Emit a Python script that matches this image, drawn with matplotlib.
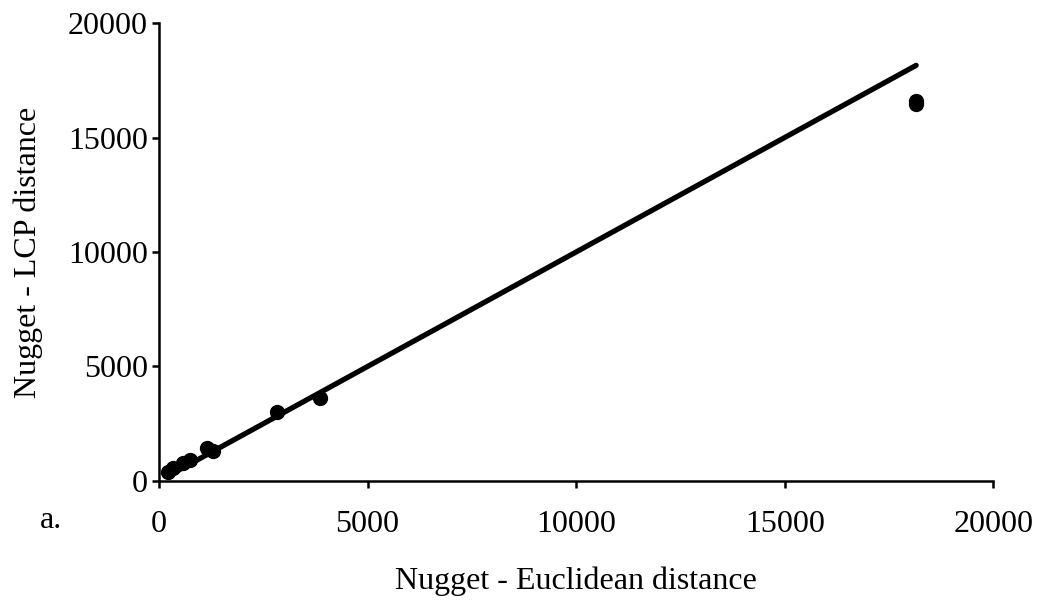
import matplotlib
matplotlib.use("Agg")
import matplotlib.pyplot as plt
import numpy as np

# Nugget distances
euclid = [223, 343, 583, 743, 1143, 1303, 2822, 3861, 18150, 18150]
lcp = [406, 555, 773, 917, 1428, 1323, 3026, 3611, 16450, 16600]

plt.rcParams["font.family"] = ["Liberation Serif", "DejaVu Serif"]

fig = plt.figure(figsize=(10.39, 6.07), dpi=100)
ax = fig.add_axes([0.153, 0.2076, 0.803, 0.7545])

x_line = np.array([min(euclid), max(euclid)])
ax.plot(x_line, x_line, color="black", linewidth=3.8, solid_capstyle="round", zorder=2)
ax.plot(euclid, lcp, "o", color="black", markersize=10, zorder=3)

ax.set_xlim(0, 20000)
ax.set_ylim(0, 20000)
ax.set_xticks([0, 5000, 10000, 15000, 20000])
ax.set_yticks([0, 5000, 10000, 15000, 20000])

for s in ["top", "right"]:
    ax.spines[s].set_visible(False)
for s in ["left", "bottom"]:
    ax.spines[s].set_linewidth(1.8)

ax.tick_params(axis="both", labelsize=23, width=1.8, length=5, direction="out")
ax.tick_params(axis="x", pad=16)
ax.tick_params(axis="y", pad=3)

ax.set_xlabel("Nugget - Euclidean distance", fontsize=23, labelpad=20)
ax.set_ylabel("Nugget - LCP distance", fontsize=23, labelpad=18)

fig.text(40 / 1039, 1 - 521 / 607, "a.", fontsize=23, ha="left", va="center")

fig.savefig("out.png", dpi=100)
